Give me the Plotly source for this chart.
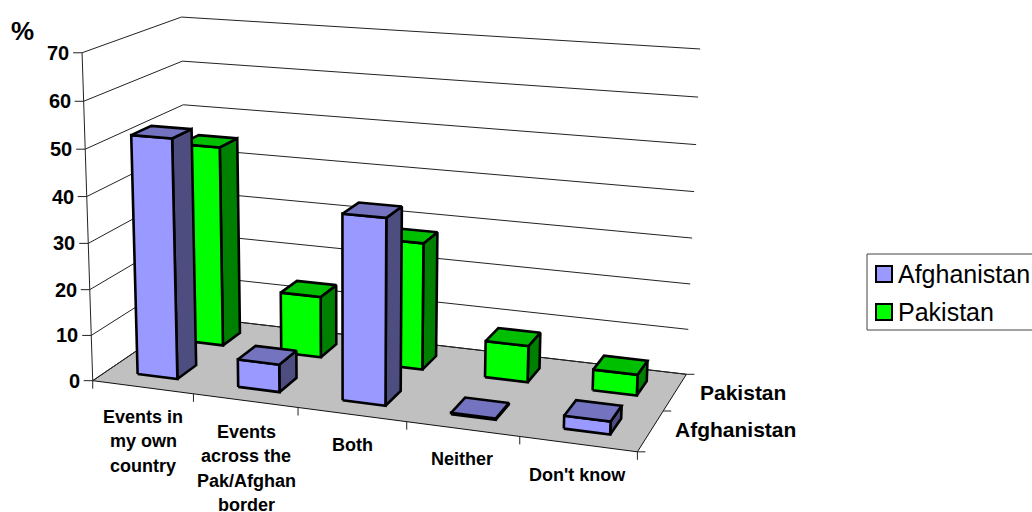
import numpy as np
import plotly.graph_objects as go

# ---- data ----
categories = ["Events in<br>my own<br>country", "Events<br>across the<br>Pak/Afghan<br>border",
              "Both", "Neither", "Don't know"]
series_names = ["Afghanistan", "Pakistan"]
afghanistan = [52, 6, 39.5, 0.3, 2.7]
pakistan = [45, 13.7, 28, 8, 4.5]
value_ticks = [0, 10, 20, 30, 40, 50, 60, 70]

# ---- camera calibration: (category, series, value) -> page pixel ----
calib_world = [(0,0,0),(1,0,0),(2,0,0),(3,0,0),(4,0,0),(5,0,0),(5,1,0),(5,2,0),(0,2,0),
               (0,0,70),(0,0,60),(0,0,10),(0,2,70),(0,2,60),(0,2,50),(5,2,70),(5,2,60),(5,2,50),(5,2,10)]
calib_page = [(94,380),(194,394),(298,408),(407,423),(519,438),(637,451),(663,410),(687,374),(185,316),
              (81,52),(83,101),(92,335),(182,17),(183,62),(184,105),(700,49),(698,97),(696,145),(689,329)]

def fit_camera(world, page):
    rows, rhs = [], []
    for (x, y, z), (u, v) in zip(world, page):
        rows.append([x, y, z, 1, 0, 0, 0, 0, -u*x, -u*y, -u*z]); rhs.append(u)
        rows.append([0, 0, 0, 0, x, y, z, 1, -v*x, -v*y, -v*z]); rhs.append(v)
    m = np.linalg.lstsq(np.array(rows, float), np.array(rhs, float), rcond=None)[0]
    return np.append(m, 1.0).reshape(3, 4)

CAM = fit_camera(calib_world, calib_page)

def proj(x, y, z):
    p = CAM @ np.array([x, y, z, 1.0])
    return p[0]/p[2], p[1]/p[2]

def path(points):
    pts = [proj(*p) for p in points]
    return [p[0] for p in pts], [p[1] for p in pts]

fig = go.Figure()

def poly(points, fill, name):
    xs, ys = path(points + points[:1])
    fig.add_trace(go.Scatter(x=xs, y=ys, mode="lines", fill="toself", fillcolor=fill, name=name,
                             line=dict(color="black", width=2.6), showlegend=False, hoverinfo="skip"))

def line(points, width=1, color="#222222"):
    xs, ys = path(points)
    fig.add_trace(go.Scatter(x=xs, y=ys, mode="lines", line=dict(color=color, width=width),
                             showlegend=False, hoverinfo="skip"))

N = len(categories)
# floor
xs, ys = path([(0,0,0),(N,0,0),(N,2,0),(0,2,0),(0,0,0)])
fig.add_trace(go.Scatter(x=xs, y=ys, mode="lines", fill="toself", fillcolor="#c0c0c0",
                         line=dict(color="#111111", width=1), showlegend=False, hoverinfo="skip"))
# walls' gridlines
for v in value_ticks:
    line([(0,0,v),(0,2,v),(N,2,v)])
# axes + ticks
line([(0,0,0),(0,0,70)])
for v in value_ticks:
    x0, y0 = proj(0,0,v)
    fig.add_trace(go.Scatter(x=[x0-9, x0], y=[y0, y0], mode="lines", line=dict(color="#222222", width=1),
                             showlegend=False, hoverinfo="skip"))
for i in range(N+1):
    x0, y0 = proj(i,0,0)
    fig.add_trace(go.Scatter(x=[x0, x0], y=[y0, y0+8], mode="lines", line=dict(color="#222222", width=1),
                             showlegend=False, hoverinfo="skip"))
for j in range(3):
    x0, y0 = proj(N,j,0)
    fig.add_trace(go.Scatter(x=[x0, x0+8], y=[y0, y0], mode="lines", line=dict(color="#222222", width=1),
                             showlegend=False, hoverinfo="skip"))

# bars, back row first
styles = {0: ("#9999ff", "#7373bf", "#4d4d80"), 1: ("#00ff00", "#00bf00", "#008000")}
for s, vals in [(1, pakistan), (0, afghanistan)]:
    f, t, r = styles[s]
    for i, v in enumerate(vals):
        x0, x1, y0, y1 = i+0.3, i+0.7, s+0.3, s+0.7
        nm = series_names[s]
        poly([(x1,y0,0),(x1,y1,0),(x1,y1,v),(x1,y0,v)], r, nm)
        poly([(x0,y0,0),(x1,y0,0),(x1,y0,v),(x0,y0,v)], f, nm)
        poly([(x0,y0,v),(x1,y0,v),(x1,y1,v),(x0,y1,v)], t, nm)

ann = []
def text(x, y, s, size, bold=True, anchor="center"):
    ann.append(dict(x=x, y=y, xref="x", yref="y", text=f"<b>{s}</b>" if bold else s, showarrow=False,
                    xanchor=anchor, yanchor="middle", borderpad=0,
                    font=dict(family="Liberation Sans, Arial", size=size, color="black")))

for v in value_ticks:
    x0, y0 = proj(0,0,v)
    text(x0-12, y0, str(v), 20, anchor="right")
text(22, 31, "%", 26)

cat_pos = [(143, 417), (246, 432), (352, 445), (462, 459), (577, 475)]
for (cx, cy), c in zip(cat_pos, categories):
    for k, ln in enumerate(c.split("<br>")):
        text(cx, cy + k*24.3, ln, 18)

text(743, 392, series_names[1], 21)
text(735, 429, series_names[0], 21)

# key
fig.add_shape(type="rect", x0=867, y0=254, x1=1045, y1=330, line=dict(color="#444444", width=1),
              fillcolor="white", layer="below")
for yy, nm, col in [(274, series_names[0], styles[0][0]), (312, series_names[1], styles[1][0])]:
    fig.add_trace(go.Scatter(x=[884], y=[yy], mode="markers", name=nm, showlegend=False, hoverinfo="skip",
                             marker=dict(symbol="square", size=16, color=col, line=dict(color="black", width=2))))
    text(897, yy - 0.5, nm, 25, bold=False, anchor="left")

fig.update_layout(width=1032, height=512, margin=dict(l=0, r=0, t=0, b=0), autosize=False,
                  paper_bgcolor="white", plot_bgcolor="white", showlegend=False, annotations=ann,
                  xaxis=dict(visible=False, range=[0, 1032], fixedrange=True),
                  yaxis=dict(visible=False, range=[512, 0], fixedrange=True))
fig.write_html("out.html", config=dict(displayModeBar=False), default_width="1032px", default_height="512px",
               post_script="document.body.style.margin='0';document.body.style.overflow='hidden';")
